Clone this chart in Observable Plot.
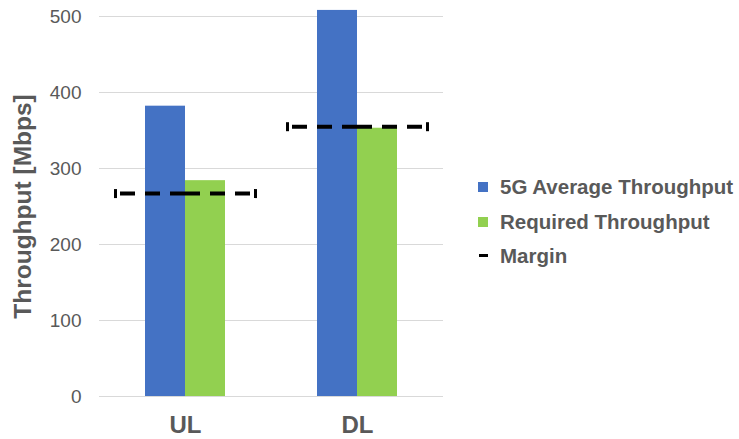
<!DOCTYPE html>
<html>
<head>
<meta charset="utf-8">
<script src="https://cdn.jsdelivr.net/npm/d3@7"></script>
<script src="https://cdn.jsdelivr.net/npm/@observablehq/plot@0.6"></script>
<style>
  body { margin: 0; background: #fff; font-family: "Liberation Sans", Arial, sans-serif; }
  #wrap { position: relative; width: 739px; height: 439px; }
  .legend { position: absolute; left: 478px; top: 175px; color: #595959; font-weight: bold; font-size: 20.5px; }
  .legend .item { position: relative; height: 34.5px; line-height: 24px; padding-left: 22px; white-space: nowrap; }
  .legend .swatch { position: absolute; left: 0; top: 7px; width: 10px; height: 10px; }
  .legend .dash { position: absolute; left: 1px; top: 10px; width: 9px; height: 3px; background: #000; }
</style>
</head>
<body>
<div id="wrap"></div>
<script>
// Throughput per link direction (Mbps)
const categories = ["UL", "DL"];
const seriesNames = ["5G Average Throughput", "Required Throughput"];
const avgThroughput = [382, 508];
const requiredThroughput = [284, 353];
const marginValues = [267, 355];
const marginName = "Margin";
const yTicks = [0, 100, 200, 300, 400, 500];
const seriesColors = ["#4472C4", "#92D050"];
const yTitle = "Throughput [Mbps]";

const bars = categories.flatMap((cat, i) => [
  {cat, series: seriesNames[0], value: avgThroughput[i]},
  {cat, series: seriesNames[1], value: requiredThroughput[i]}
]);
const margins = categories.map((cat, i) => ({cat, value: marginValues[i]}));

// small vertical cap drawn at both ends of each margin line
const endCap = {draw(context) { context.rect(-1.5, -4.5, 3, 9); }};

const textColor = "#595959";

const chart = Plot.plot({
  width: 739,
  height: 439,
  marginLeft: 99,
  marginRight: 296,
  marginTop: 16,
  marginBottom: 43,
  style: {fontFamily: "'Liberation Sans', Arial, sans-serif", background: "#fff"},
  fx: {domain: categories, padding: 0, label: null},
  x: {domain: seriesNames, paddingInner: 0, paddingOuter: 1.1, axis: null},
  y: {domain: [0, 500], label: null},
  color: {domain: seriesNames, range: seriesColors},
  marks: [
    Plot.gridY({ticks: yTicks, stroke: "#d9d9d9", strokeOpacity: 1, strokeWidth: 1}),
    Plot.axisY({ticks: yTicks, tickSize: 0, tickPadding: 18, fontSize: 19, fill: textColor, label: null}),
    Plot.axisFx({anchor: "bottom", tickSize: 0, tickPadding: 19, fontSize: 24, fontWeight: "bold", fill: textColor, label: null}),
    Plot.barY(bars, {fx: "cat", x: "series", y: "value", fill: "series"}),
    // margin line: two halves dashed outward from the centre
    Plot.ruleY(margins, {fx: "cat", y: "value", stroke: "#000", strokeWidth: 4,
      strokeDasharray: "15,10", strokeDashoffset: 19, insetLeft: 15, insetRight: 86}),
    Plot.ruleY(margins, {fx: "cat", y: "value", stroke: "#000", strokeWidth: 4,
      strokeDasharray: "15,10", insetLeft: 86, insetRight: 16}),
    Plot.dot(margins, {fx: "cat", y: "value", symbol: endCap, fill: "#000", stroke: null, dx: -70}),
    Plot.dot(margins, {fx: "cat", y: "value", symbol: endCap, fill: "#000", stroke: null, dx: 70}),
    Plot.text([yTitle], {facet: "super", frameAnchor: "left", rotate: -90, dx: -76,
      text: d => d, fontSize: 24.5, fontWeight: "bold", fill: textColor, textAnchor: "middle"})
  ]
});

const wrap = document.getElementById("wrap");
wrap.appendChild(chart);

// legend to the right of the plot
const legend = document.createElement("div");
legend.className = "legend";
seriesNames.forEach((name, i) => {
  const item = document.createElement("div");
  item.className = "item";
  const sw = document.createElement("span");
  sw.className = "swatch";
  sw.style.background = seriesColors[i];
  item.appendChild(sw);
  item.appendChild(document.createTextNode(name));
  legend.appendChild(item);
});
const mItem = document.createElement("div");
mItem.className = "item";
const dash = document.createElement("span");
dash.className = "dash";
mItem.appendChild(dash);
mItem.appendChild(document.createTextNode(marginName));
legend.appendChild(mItem);
wrap.appendChild(legend);
</script>
</body>
</html>
